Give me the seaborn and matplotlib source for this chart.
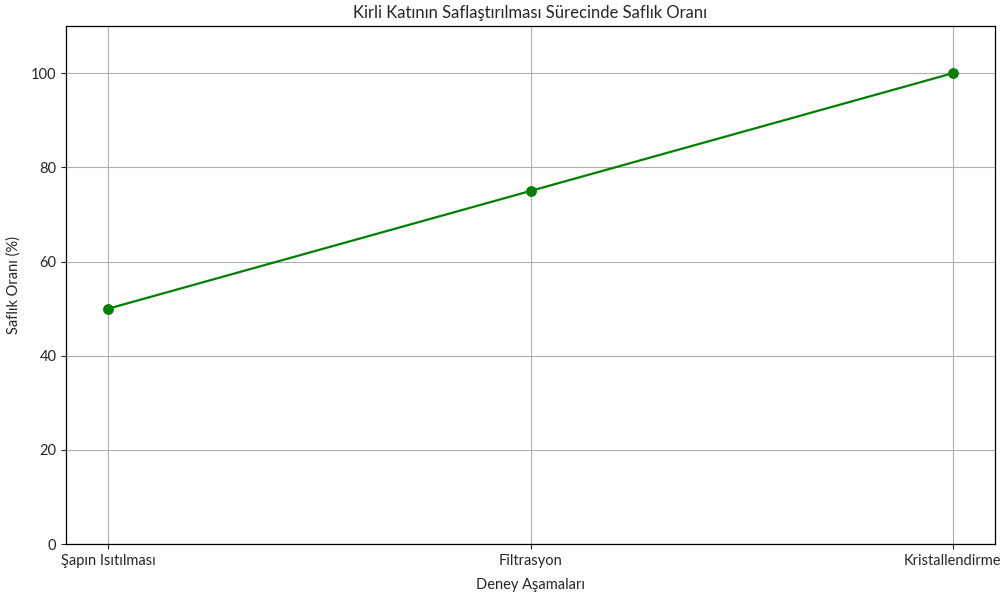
import matplotlib
matplotlib.use("Agg")
import matplotlib.pyplot as plt
import seaborn as sns
import pandas as pd

stages = ["Şapın Isıtılması", "Filtrasyon", "Kristallendirme"]
purity = [50, 75, 100]

sns.set_style("ticks")
plt.rcParams['font.family'] = ['Lato', 'DejaVu Sans']

df = pd.DataFrame({"stage": stages, "purity": purity})

fig = plt.figure(figsize=(10.01, 5.94), dpi=100)
ax = fig.add_axes([0.066, 0.084, 0.928, 0.872])
sns.lineplot(data=df, x="stage", y="purity", marker="o", color="green",
             markersize=7, markeredgecolor="green", linewidth=1.6, ax=ax, sort=False)
ax.set_ylim(0, 110)
ax.set_xlim(-0.1, 2.1)
ax.grid(True, color="#b0b0b0", linewidth=0.8)
ax.set_title("Kirli Katının Saflaştırılması Sürecinde Saflık Oranı", fontsize=12)
ax.set_xlabel("Deney Aşamaları", fontsize=10.5, labelpad=7)
ax.set_ylabel("Saflık Oranı (%)", fontsize=10.5, labelpad=7)
ax.tick_params(labelsize=10.5)
for s in ax.spines.values():
    s.set_color("black")
    s.set_linewidth(0.9)
fig.savefig("out.png", dpi=100)
